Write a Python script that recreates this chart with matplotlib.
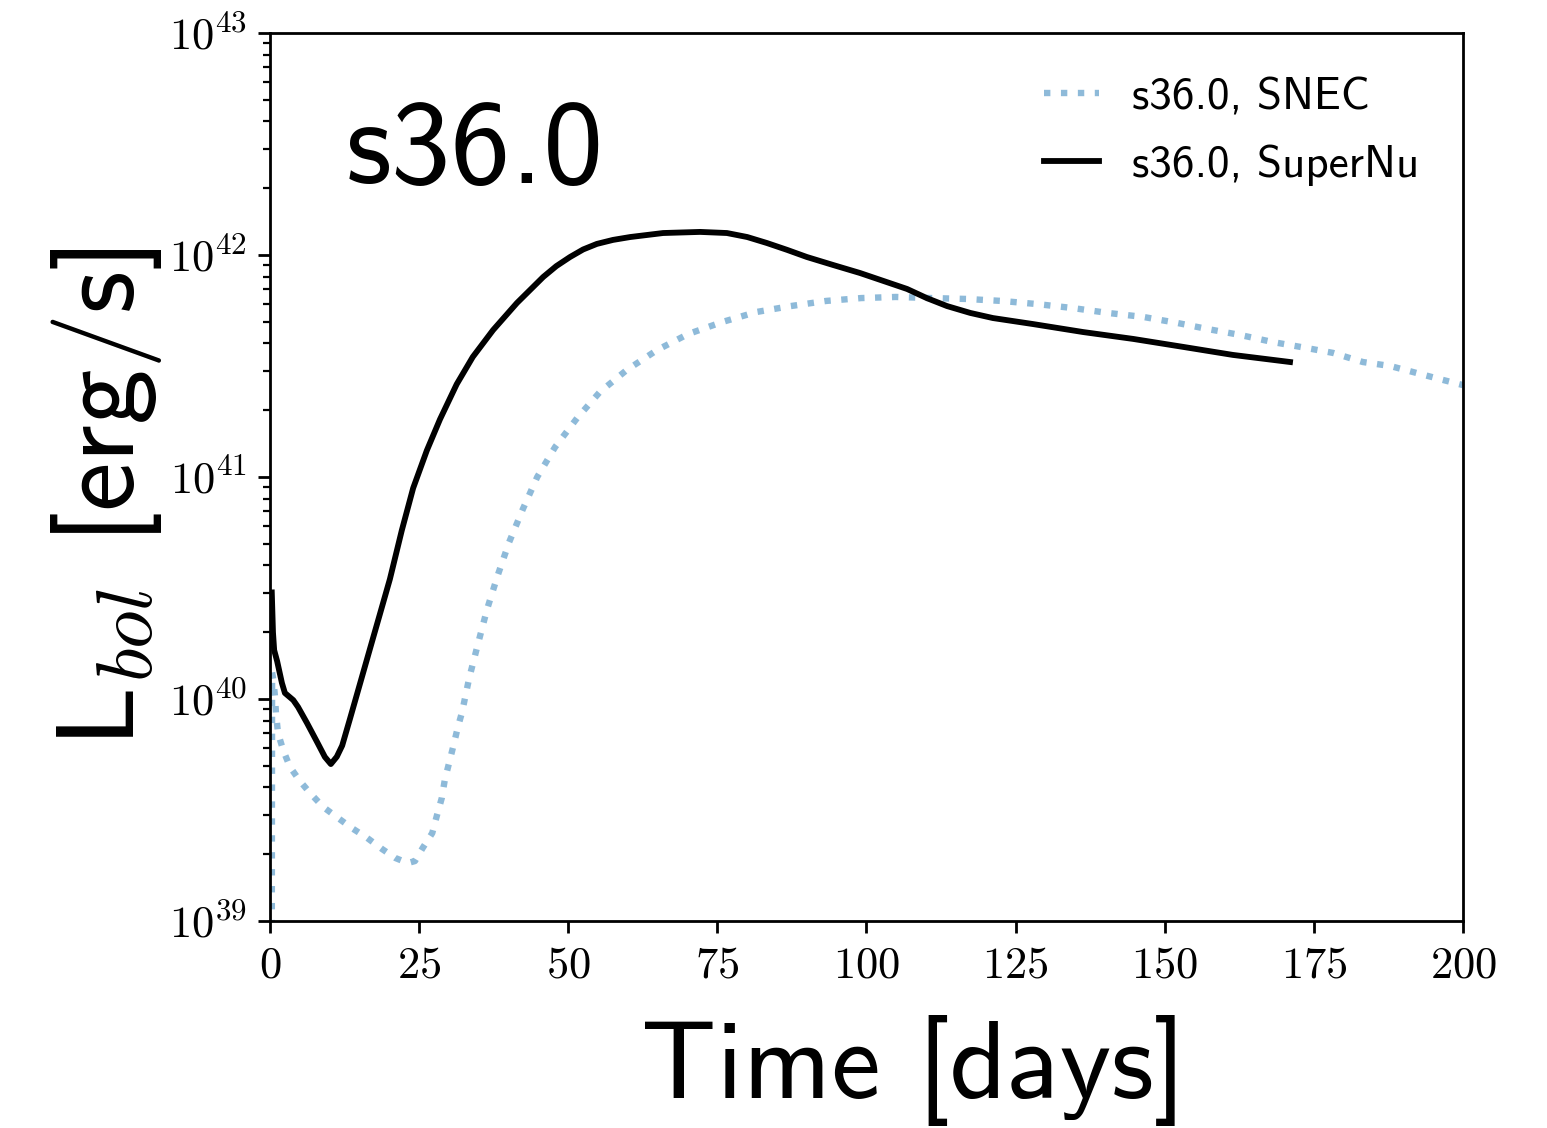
import numpy as np
import matplotlib
matplotlib.use("Agg")
import matplotlib.pyplot as plt
from matplotlib.ticker import FixedLocator, FuncFormatter, LogLocator, NullFormatter

plt.rcParams["font.family"] = ["cmss10", "DejaVu Sans"]
plt.rcParams["mathtext.fontset"] = "cm"
plt.rcParams["axes.unicode_minus"] = False

# Bolometric light curves of model s36.0 (time in days, log10 of L in erg/s)
snec_t = [0.3, 0.35, 0.6, 0.84, 1.0, 1.34, 2.2, 3.35, 5.0, 6.7, 8.9, 11.2, 13.7, 16.3,
          18.8, 21.0, 23.1, 24.3, 25.6, 27.2, 28.0, 28.8, 29.3, 30.7, 31.5, 32.2, 33.4,
          34.9, 36.4, 38.2, 40.1, 42.4, 44.8, 47.8, 51.5, 55.3, 59.8, 64.9, 70.1, 75.8,
          81.5, 87.3, 93.2, 99.1, 104.9, 111.0, 116.8, 122.7, 128.6, 134.6, 140.5, 146.4,
          152.1, 157.1, 162.6, 168.1, 173.8, 178.2, 183.2, 187.8, 191.6, 196.1, 200.0]
snec_logL = [38.9, 40.12, 40.08, 40.009, 39.937, 39.847, 39.770, 39.694, 39.631, 39.577,
             39.514, 39.468, 39.419, 39.374, 39.324, 39.284, 39.261, 39.270, 39.329, 39.396,
             39.477, 39.554, 39.635, 39.784, 39.874, 39.941, 40.095, 40.252, 40.405, 40.559,
             40.707, 40.856, 41.000, 41.135, 41.266, 41.383, 41.482, 41.572, 41.644, 41.698,
             41.743, 41.770, 41.793, 41.806, 41.811, 41.806, 41.802, 41.793, 41.779, 41.761,
             41.739, 41.721, 41.694, 41.667, 41.640, 41.608, 41.581, 41.559, 41.518, 41.500,
             41.473, 41.441, 41.414]

supernu_t = [0.3, 0.5, 0.7, 1.2, 2.0, 2.5, 3.9, 4.7, 6.2, 7.9, 9.2, 10.2, 11.2, 12.1,
             13.4, 15.1, 16.8, 18.4, 20.1, 22.1, 24.0, 26.3, 28.5, 31.3, 34.0, 37.4, 41.4,
             45.8, 48.0, 50.3, 52.5, 54.8, 57.5, 60.4, 65.9, 72.1, 76.6, 80.0, 83.3, 86.7,
             90.0, 94.4, 98.9, 103.4, 106.8, 110.1, 113.5, 117.4, 121.2, 127.9, 136.3,
             144.7, 153.1, 161.4, 171.0]
supernu_logL = [40.48, 40.30, 40.22, 40.17, 40.072, 40.027, 39.995, 39.964, 39.892, 39.806,
                39.739, 39.707, 39.740, 39.790, 39.910, 40.070, 40.230, 40.380, 40.540,
                40.760, 40.950, 41.120, 41.260, 41.418, 41.541, 41.662, 41.784, 41.901,
                41.950, 41.991, 42.025, 42.050, 42.068, 42.081, 42.099, 42.104, 42.099,
                42.081, 42.054, 42.023, 41.991, 41.955, 41.919, 41.878, 41.847, 41.806,
                41.770, 41.739, 41.716, 41.689, 41.653, 41.622, 41.586, 41.550, 41.518]

x_ticks = [0, 25, 50, 75, 100, 125, 150, 175, 200]
y_decades = [39, 40, 41, 42, 43]

fig = plt.figure(figsize=(15.47, 11.28), dpi=100)
ax = fig.add_axes([0.17453, 0.18351, 0.77117, 0.78723])

ax.plot(snec_t, 10.0 ** np.array(snec_logL), ls=":", lw=4.6, color="#1f77b4",
        alpha=0.5, label="s36.0, SNEC")
ax.plot(supernu_t, 10.0 ** np.array(supernu_logL), ls="-", lw=4.2, color="black",
        label="s36.0, SuperNu")

ax.set_yscale("log")
ax.set_xlim(0, 200)
ax.set_ylim(10.0 ** y_decades[0], 10.0 ** y_decades[-1])

ax.xaxis.set_major_locator(FixedLocator(x_ticks))
ax.xaxis.set_major_formatter(FuncFormatter(lambda v, _: r"$%d$" % int(round(v))))
ax.yaxis.set_major_locator(FixedLocator([10.0 ** d for d in y_decades]))
ax.yaxis.set_major_formatter(FuncFormatter(lambda v, _: r"$10^{%d}$" % int(round(np.log10(v)))))
ax.yaxis.set_minor_locator(LogLocator(base=10, subs=np.arange(2, 10), numticks=20))
ax.yaxis.set_minor_formatter(NullFormatter())

ax.tick_params(axis="both", which="major", direction="out", length=8.5, width=2,
               labelsize=32, top=False, right=False)
ax.tick_params(axis="y", which="minor", direction="out", length=4.8, width=1.6,
               right=False)
ax.tick_params(axis="y", which="major", pad=8)
ax.tick_params(axis="x", which="major", pad=9)
for s in ax.spines.values():
    s.set_linewidth(2)

ax.set_xlabel("Time [days]", fontsize=80)
ax.xaxis.set_label_coords(0.539, -0.106)
ax.set_ylabel(r"L$_{bol}$ [erg/s]", fontsize=80)
ax.yaxis.set_label_coords(-0.089, 0.477)

ax.text(0.063, 0.831, "s36.0", transform=ax.transAxes, fontsize=86,
        ha="left", va="baseline")

ax.legend(loc="upper right", frameon=False, fontsize=32.5, handlelength=1.2,
          handletextpad=0.73, labelspacing=0.58, borderaxespad=0.58)

fig.savefig("out.png", dpi=100)
